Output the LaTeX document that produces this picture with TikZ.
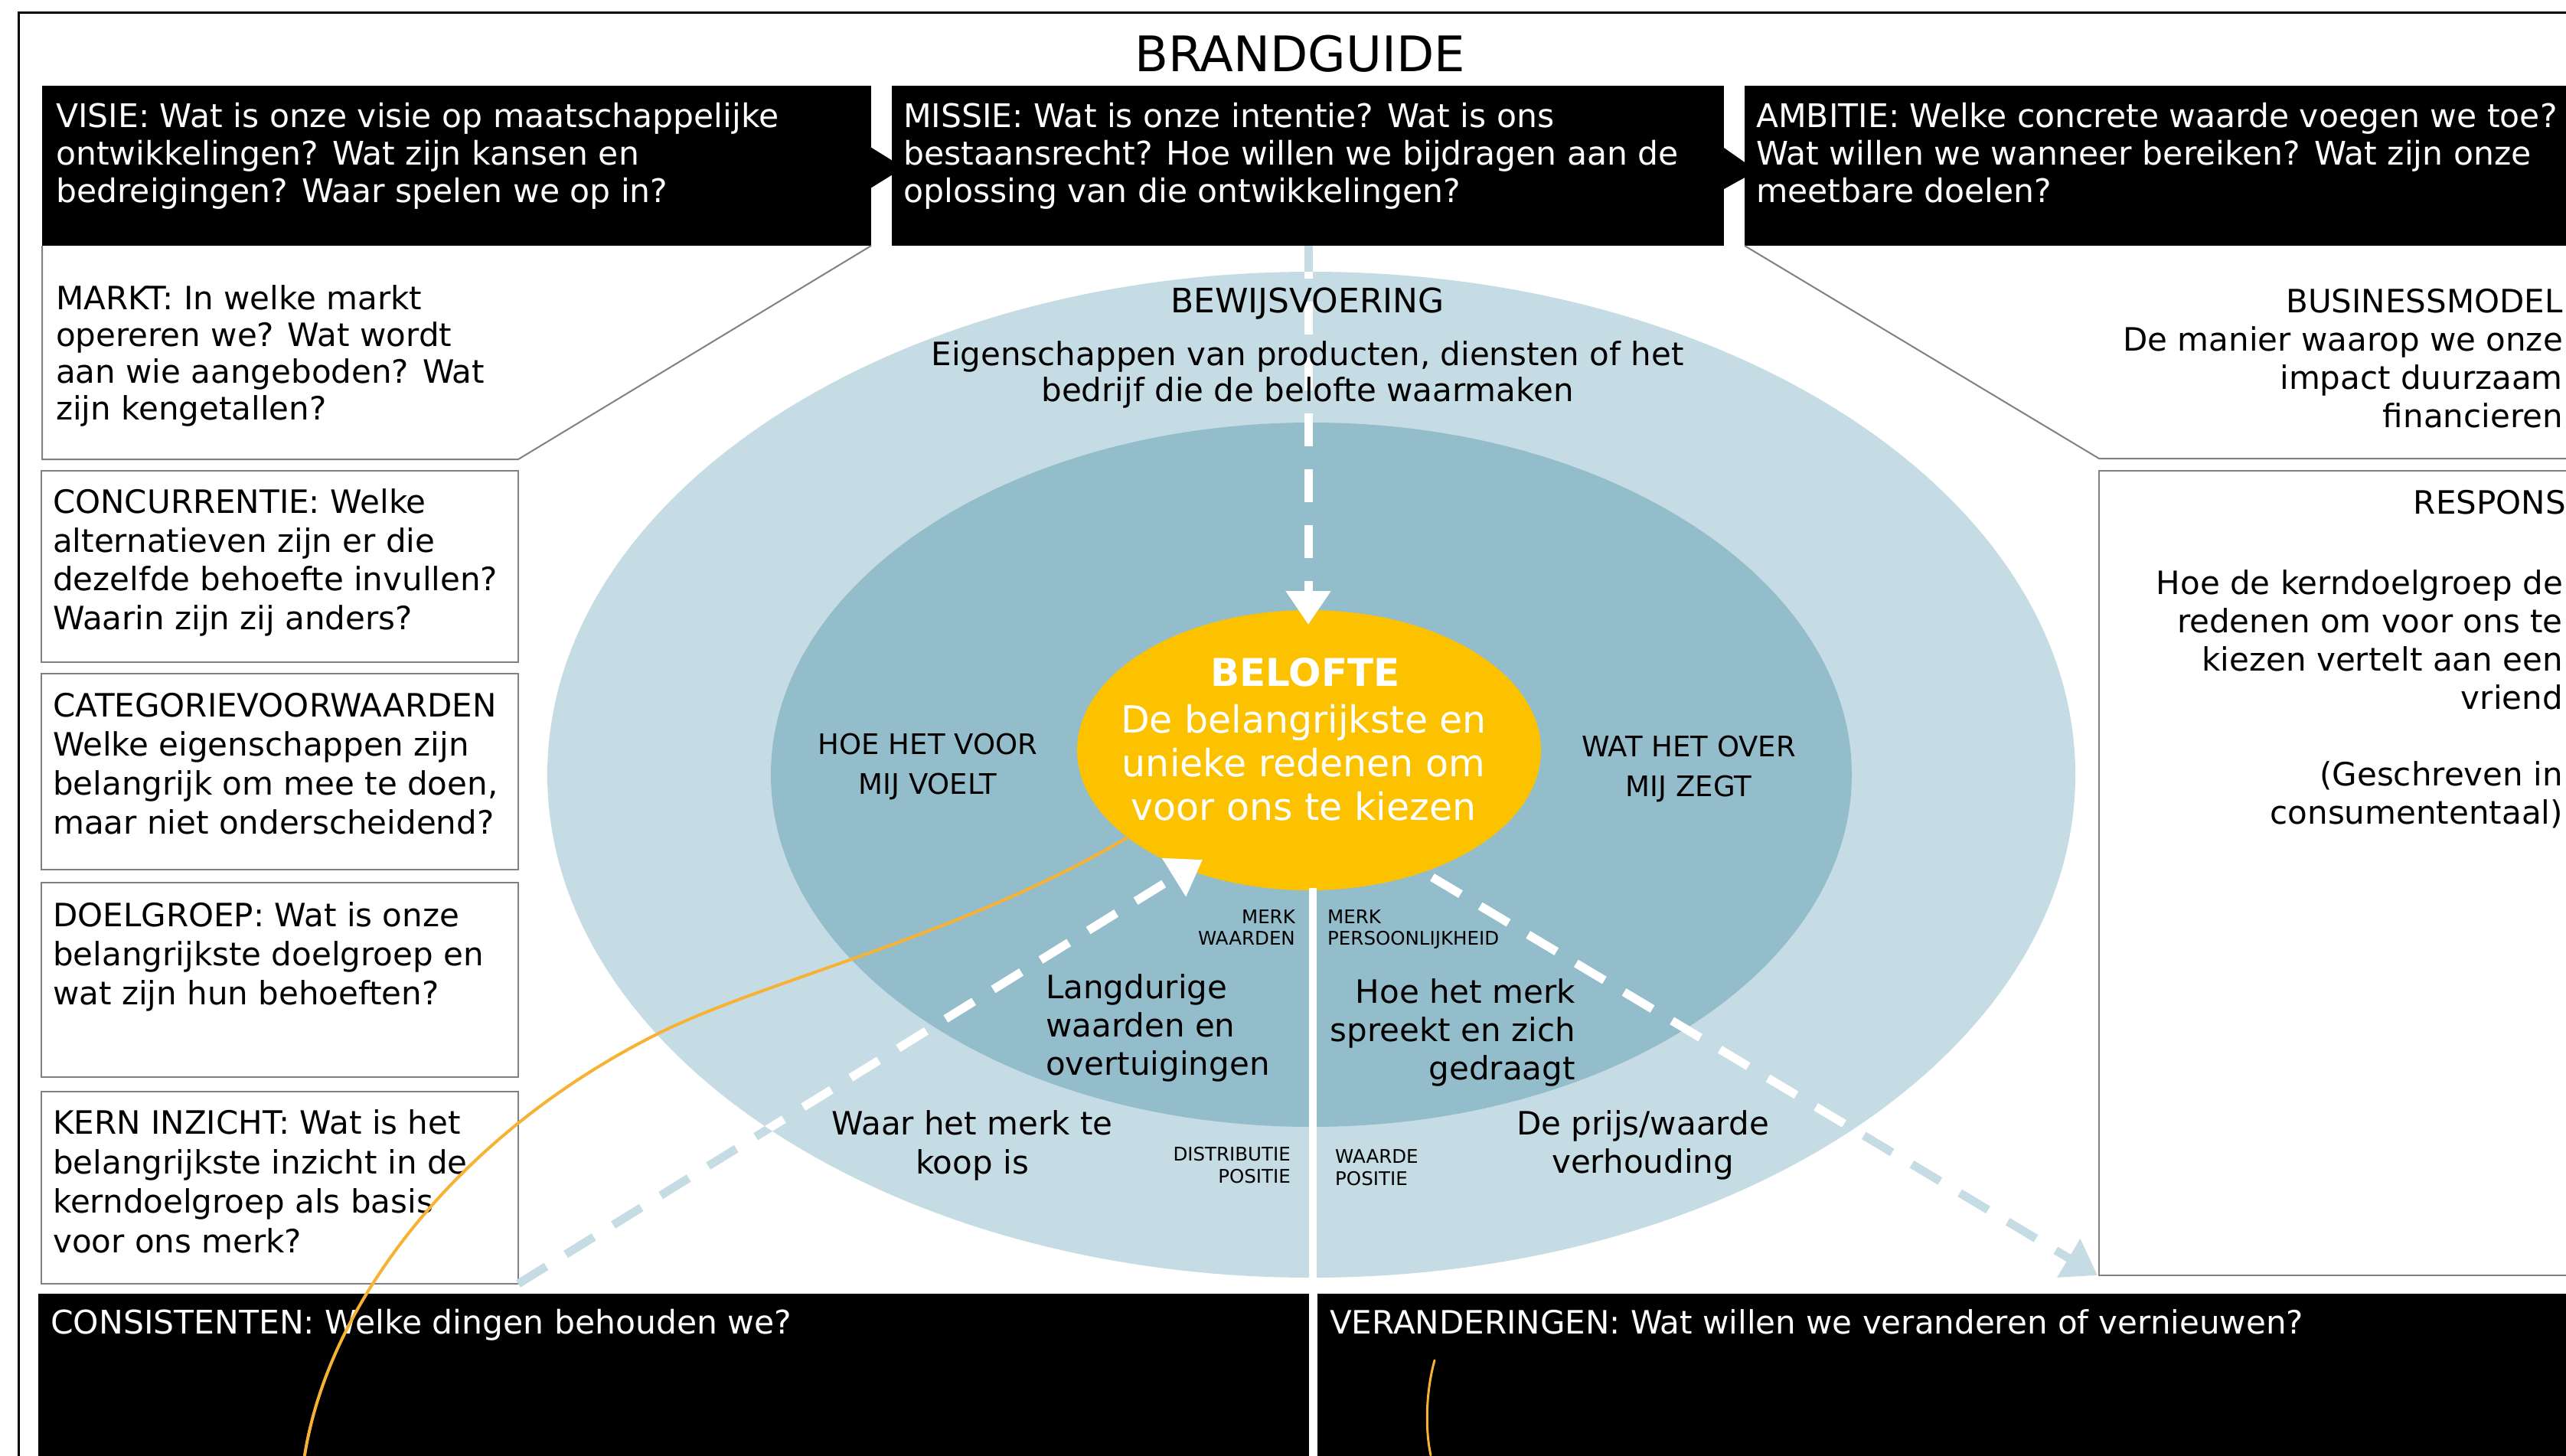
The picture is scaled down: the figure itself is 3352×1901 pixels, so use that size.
\documentclass[tikz,border=0pt]{standalone}
\usepackage{fontspec}
\setmainfont{DejaVu Sans}
\usetikzlibrary{arrows.meta}

\definecolor{ringlicht}{RGB}{198,220,228}
\definecolor{ringmidden}{RGB}{148,189,204}
\definecolor{beloftegeel}{RGB}{252,194,0}
\definecolor{pen}{RGB}{248,178,51}
\definecolor{kadergrijs}{RGB}{128,128,128}

\newcommand{\maat}[2]{\fontsize{#1pt}{#2pt}\selectfont}

\begin{document}
\begin{tikzpicture}[x=1pt, y=-1pt,
    kader/.style={draw=kadergrijs, line width=2pt},
    wittekst/.style={text=white, inner sep=0pt, align=left, anchor=base west},
    links/.style={inner sep=0pt, align=left, anchor=base west},
    rechts/.style={inner sep=0pt, align=right, anchor=base east},
    midden/.style={inner sep=0pt, align=center, anchor=base},
    pijl/.style={line width=11pt, dash pattern=on 43pt off 30pt,
      -{Triangle[length=44pt, width=56pt]}}]

	\useasboundingbox (0,0) rectangle (3352,1901);
	\clip (0,0) rectangle (3352,1901);

	%
	\coordinate (M) at (1713,1012);
	\coordinate (B) at (1710,980);

	\coordinate (T0) at (1709,321);
	\coordinate (T1) at (1709,816);
	\coordinate (L0) at (677,1677);
	\coordinate (L1) at (1571,1123);
	\coordinate (R0) at (1871,1146);
	\coordinate (R1) at (2740,1666);

	\coordinate (O1) at (1473,1094);
	\coordinate (O2) at (398,1901);
	\coordinate (O3) at (1874,1777);
	\coordinate (O4) at (1869,1901);

	% kader
	\draw[line width=3pt] (3400,16) -- (24,16) -- (24,1950);

	% zwarte blokken boven en onder
	\fill (55,112) rectangle (1138,321);
	\fill (1165,112) rectangle (2252,321);
	\fill (2279,112) rectangle (3400,321);
	\fill (1137,192) -- (1166,210) -- (1166,228) -- (1137,246) -- cycle;
	\fill (2252,193) -- (2279,212) -- (2279,232) -- (2252,247) -- cycle;
	\fill (50,1690) rectangle (1710,1950);
	\fill (1721,1690) rectangle (3400,1950);

	% grijze vakken
	\draw[kader] (55,321) -- (55,600) -- (677,600) -- (1138,321);
	\draw[kader] (2279,321) -- (2742,599) -- (3400,599);
	\draw[kader] (3400,615) -- (2742,615) -- (2742,1666) -- (3400,1666);
	\foreach \ya/\yb in {615/865, 880/1136, 1153/1407, 1426/1677}
		\draw[kader] (54,\ya) rectangle (677,\yb);

	% ringen
	\fill[ringlicht] (M) ellipse [x radius=998, y radius=657];
	\fill[ringmidden] (M) ellipse [x radius=706, y radius=460];
	\fill[beloftegeel] (B) ellipse [x radius=303, y radius=183];
	\draw[white, line width=10pt] (1715,1160) -- (1715,1950);

	% pijlen
	\foreach \a/\b in {T0/T1, L0/L1, R0/R1}
		\draw[pijl, ringlicht] (\a) -- (\b);
	\begin{scope}
		\clip (M) ellipse [x radius=998, y radius=657];
		\foreach \a/\b in {T0/T1, L0/L1, R0/R1}
			\draw[pijl, white] (\a) -- (\b);
	\end{scope}

	% teksten (bij meerdere regels ligt de basislijn op de laatste regel)
	\node[midden, font=\maat{64}{70}] (titel) at (1698,93) {BRANDGUIDE};

	\node[wittekst, font=\maat{42.5}{49}] (visie) at (73,264)
		{VISIE: Wat is onze visie op maatschappelijke\\ontwikkelingen? Wat zijn kansen en\\bedreigingen? Waar spelen we op in?};
	\node[wittekst, font=\maat{42.5}{49}] (missie) at (1180,264)
		{MISSIE: Wat is onze intentie? Wat is ons\\bestaansrecht? Hoe willen we bijdragen aan de\\oplossing van die ontwikkelingen?};
	\node[wittekst, font=\maat{42.5}{49}] (ambitie) at (2294,264)
		{AMBITIE: Welke concrete waarde voegen we toe?\\Wat willen we wanneer bereiken? Wat zijn onze\\meetbare doelen?};

	\node[links, font=\maat{42}{48}] (markt) at (73,548)
		{MARKT: In welke markt\\opereren we? Wat wordt\\aan wie aangeboden? Wat\\zijn kengetallen?};
	\node[links, font=\maat{42}{50.5}] (concurrentie) at (69,822)
		{CONCURRENTIE: Welke\\alternatieven zijn er die\\dezelfde behoefte invullen?\\Waarin zijn zij anders?};
	\node[links, font=\maat{42}{51}] (categorie) at (69,1089)
		{CATEGORIEVOORWAARDEN\\Welke eigenschappen zijn\\belangrijk om mee te doen,\\maar niet onderscheidend?};
	\node[links, font=\maat{42}{51}] (doelgroep) at (69,1312)
		{DOELGROEP: Wat is onze\\belangrijkste doelgroep en\\wat zijn hun behoeften?};
	\node[links, font=\maat{42}{51.5}] (kern) at (69,1636)
		{KERN INZICHT: Wat is het\\belangrijkste inzicht in de\\kerndoelgroep als basis\\voor ons merk?};

	\node[rechts, font=\maat{42}{50}] (businessmodel) at (3348,558)
		{BUSINESSMODEL\\De manier waarop we onze\\impact duurzaam\\financieren};
	\node[rechts, font=\maat{42}{50}] (respons) at (3352,671) {RESPONS};
	\node[rechts, font=\maat{42}{50}] (vriend) at (3348,926)
		{Hoe de kerndoelgroep de\\redenen om voor ons te\\kiezen vertelt aan een\\vriend};
	\node[rechts, font=\maat{42}{50}] (taal) at (3348,1076) {(Geschreven in\\consumententaal)};

	\node[wittekst, font=\maat{42.5}{50}] (consistenten) at (66,1742) {CONSISTENTEN: Welke dingen behouden we?};
	\node[wittekst, font=\maat{42}{50}] (veranderingen) at (1737,1742) {VERANDERINGEN: Wat willen we veranderen of vernieuwen?};

	\node[midden, font=\maat{44}{47}] (bewijs) at (1708,408) {BEWIJSVOERING};
	\node[midden, font=\maat{42}{47}] (eigenschappen) at (1708,524)
		{Eigenschappen van producten, diensten of het\\bedrijf die de belofte waarmaken};

	\node[midden, font=\maat{37}{52}] (voelt) at (1212,1037) {HOE HET VOOR\\MIJ VOELT};
	\node[midden, font=\maat{37}{52}] (zegt) at (2206,1040) {WAT HET OVER\\MIJ ZEGT};

	\node[midden, text=white, font=\bfseries\maat{50}{57}] (belofte) at (1705,896) {BELOFTE};
	\node[midden, text=white, font=\maat{49}{57}] (redenen) at (1703,1071)
		{De belangrijkste en\\unieke redenen om\\voor ons te kiezen};

	\node[rechts, font=\maat{24.5}{28}] (merkwaarden) at (1692,1234) {MERK\\WAARDEN};
	\node[links, font=\maat{24.5}{28}] (persoonlijkheid) at (1734,1234) {MERK\\PERSOONLIJKHEID};
	\node[links, font=\maat{42}{50}] (langdurig) at (1366,1404) {Langdurige\\waarden en\\overtuigingen};
	\node[rechts, font=\maat{42}{50}] (gedraagt) at (2058,1410) {Hoe het merk\\spreekt en zich\\gedraagt};

	\node[midden, font=\maat{42}{51}] (koop) at (1270,1533) {Waar het merk te\\koop is};
	\node[rechts, font=\maat{24.5}{29}] (distributie) at (1686,1545) {DISTRIBUTIE\\POSITIE};
	\node[links, font=\maat{24.5}{29}] (waardepositie) at (1744,1548) {WAARDE\\POSITIE};
	\node[midden, font=\maat{42}{50}] (prijs) at (2146,1532) {De prijs/waarde\\verhouding};

	% pennenstreken
	\draw[pen, line width=4pt, line cap=round] (O1) .. controls (1250,1225) and (1000,1280) .. (860,1350)
		.. controls (600,1480) and (430,1700) .. (O2);
	\draw[pen, line width=3pt, line cap=round] (O3) .. controls (1862,1820) and (1862,1870) .. (O4);
\end{tikzpicture}
\end{document}
